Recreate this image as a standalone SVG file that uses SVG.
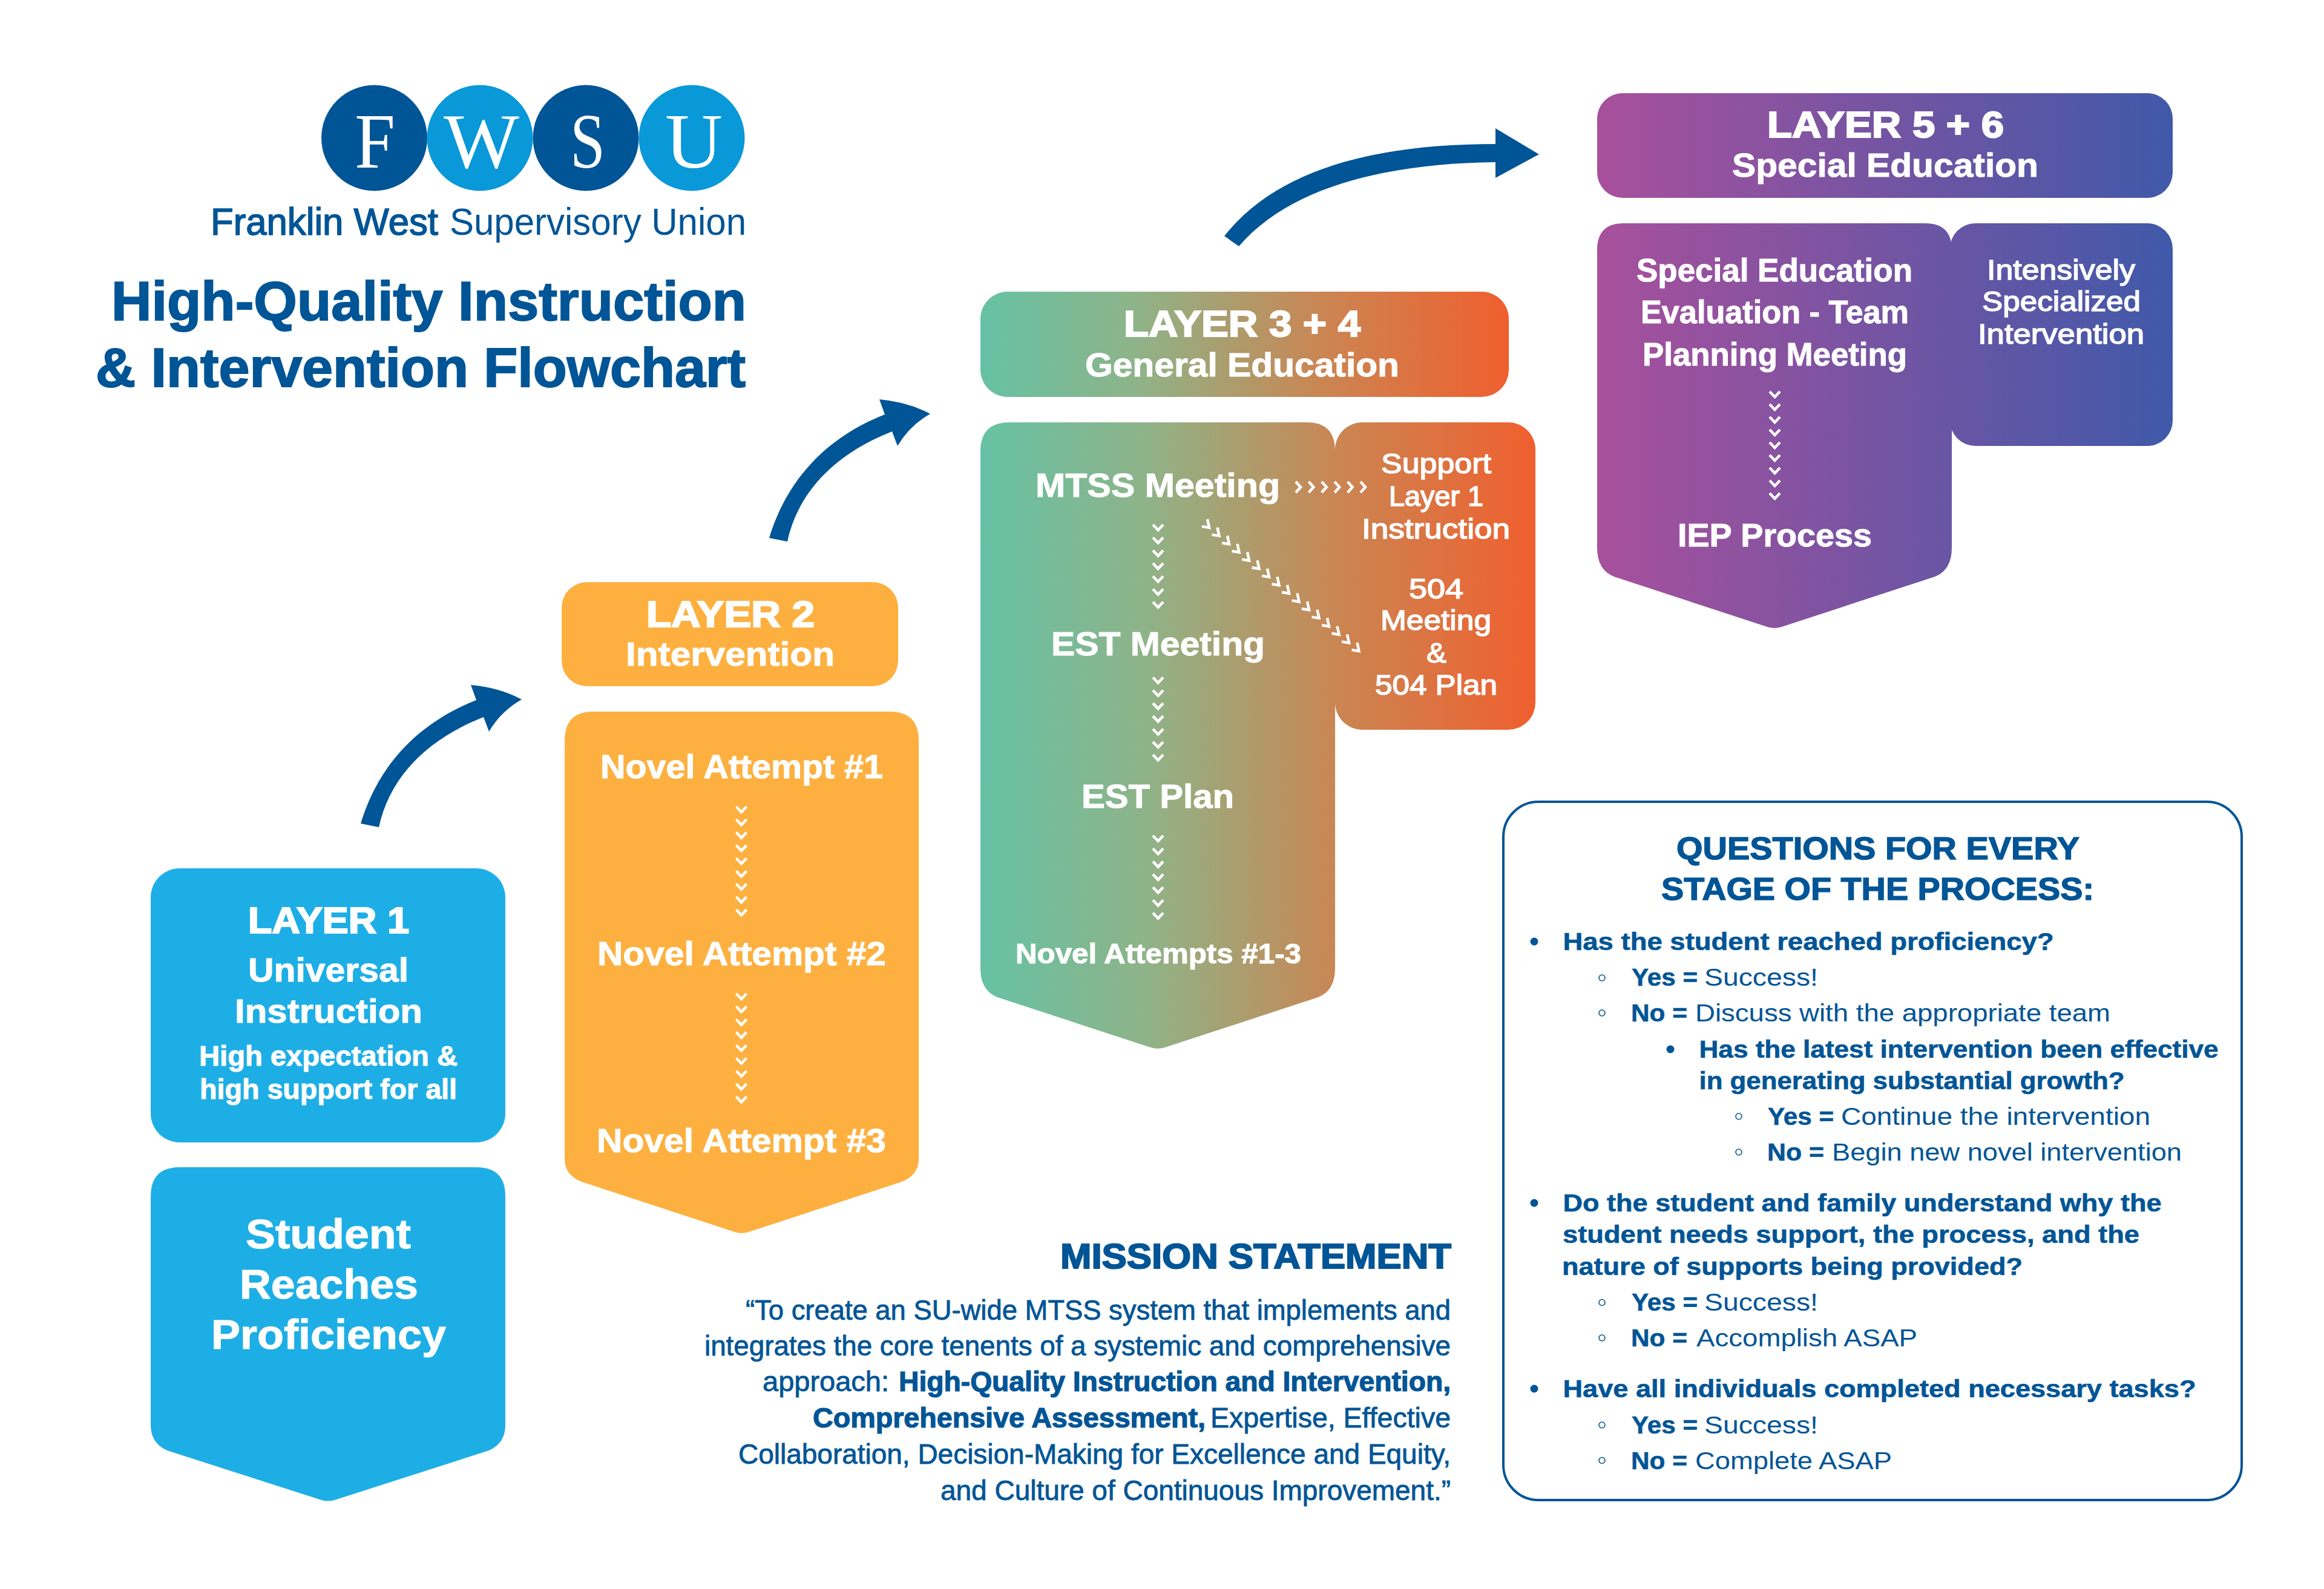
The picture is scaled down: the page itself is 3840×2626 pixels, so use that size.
<svg xmlns="http://www.w3.org/2000/svg" width="3840" height="2626" viewBox="0 0 3840 2626">
<style>
text{font-family:"Liberation Sans",Arial,sans-serif;}
.w{fill:#fff;font-weight:700;stroke:#fff;stroke-width:1;}
.h{fill:#fff;font-weight:700;stroke:#fff;stroke-width:2.2;}
.n{fill:#fff;font-weight:400;stroke:#fff;stroke-width:1.5;}
.b{fill:#005596;font-weight:700;stroke:#005596;stroke-width:.6;}
.tt{fill:#005596;font-weight:700;stroke:#005596;stroke-width:2;}
.fw{fill:#005596;font-weight:400;stroke:#005596;stroke-width:1.6;}
.r{fill:#005596;font-weight:400;}
.m{stroke:#005596;stroke-width:.8;}
.mb{stroke-width:1.2;}
.s{font-family:"Liberation Serif",serif;fill:#fff;font-size:130px;}
.q{font-size:41px;}
.t{font-size:41px;}
.cv{fill:none;stroke:#fff;stroke-width:4.5;}
.dot{fill:#005596;}
.ring{fill:none;stroke:#005596;stroke-width:1.6;}
</style>
<defs>
<linearGradient id="gGreen" gradientUnits="userSpaceOnUse" x1="1620" y1="0" x2="2537" y2="0"><stop offset="0" stop-color="#66C2A5"/><stop offset=".3" stop-color="#8FB388"/><stop offset=".65" stop-color="#CB8552"/><stop offset="1" stop-color="#F05F2E"/></linearGradient>
<linearGradient id="gGreenH" gradientUnits="userSpaceOnUse" x1="1620" y1="0" x2="2493" y2="0"><stop offset="0" stop-color="#66C2A5"/><stop offset=".3" stop-color="#8FB388"/><stop offset=".65" stop-color="#CB8552"/><stop offset="1" stop-color="#F05F2E"/></linearGradient>
<linearGradient id="gPurple" gradientUnits="userSpaceOnUse" x1="2639" y1="0" x2="3590" y2="0"><stop offset="0" stop-color="#A8509C"/><stop offset="1" stop-color="#4059A9"/></linearGradient>
<path id="cd" d="M-8.500 -5 L0 4 L8.500 -5"/>
<path id="cr" d="M-4 -9 L4 0 L-4 9"/>
<path id="cc" d="M-12 -2 L0 0 L-3 -14"/>
</defs>
<rect width="3840" height="2626" fill="#fff"/>

<g id="logo">
<ellipse cx="618.500" cy="228" rx="87.500" ry="87.500" fill="#005596"/>
<ellipse cx="793" cy="228" rx="87.500" ry="87.500" fill="#0998D8"/>
<ellipse cx="968" cy="228" rx="87.500" ry="87.500" fill="#005596"/>
<ellipse cx="1143" cy="228" rx="87.500" ry="87.500" fill="#0998D8"/>
<text class="s" x="586" y="277" textLength="67" lengthAdjust="spacingAndGlyphs">F</text>
<text class="s" x="733" y="277" textLength="125" lengthAdjust="spacingAndGlyphs">W</text>
<text class="s" x="942" y="277" textLength="58" lengthAdjust="spacingAndGlyphs">S</text>
<text class="s" x="1099" y="277" textLength="95" lengthAdjust="spacingAndGlyphs">U</text>
<text class="fw" x="348" y="388" font-size="63" textLength="376" lengthAdjust="spacingAndGlyphs">Franklin West</text>
<text class="r" x="743" y="388" font-size="63" textLength="490" lengthAdjust="spacingAndGlyphs">Supervisory Union</text>
</g>

<g id="title">
<text class="tt" x="184" y="529" font-size="91" textLength="1049" lengthAdjust="spacingAndGlyphs">High-Quality Instruction</text>
<text class="tt" x="158" y="639" font-size="91" textLength="1074" lengthAdjust="spacingAndGlyphs">&amp; Intervention Flowchart</text>
</g>

<g id="connectors">
<path id="arrow1" fill="#005596" d="M596 1361C625 1265 690 1195 787 1157L778 1132Q825 1136 862 1156Q828 1175 808 1209L799 1185C710 1220 645 1280 626 1367Z"/>
<path id="arrow2" fill="#005596" transform="translate(675 -472)" d="M596 1361C625 1265 690 1195 787 1157L778 1132Q825 1136 862 1156Q828 1175 808 1209L799 1185C710 1220 645 1280 626 1367Z"/>
<path id="arrow3" fill="#005596" d="M2023 390C2110 280 2270 238 2471 238L2471 212L2543 255L2471 294L2471 268C2300 270 2135 305 2047 407Z"/>
</g>

<g id="layer1">
<rect x="249" y="1435" width="586" height="453" rx="48" fill="#1EAEE6"/>
<text class="h" x="410" y="1542" font-size="61" textLength="266" lengthAdjust="spacingAndGlyphs">LAYER 1</text>
<text class="w" x="410" y="1622" font-size="56" textLength="265" lengthAdjust="spacingAndGlyphs">Universal</text>
<text class="w" x="388" y="1690" font-size="56" textLength="310" lengthAdjust="spacingAndGlyphs">Instruction</text>
<text class="w" x="329" y="1761" font-size="47" textLength="427" lengthAdjust="spacingAndGlyphs">High expectation &amp;</text>
<text class="w" x="330" y="1816" font-size="47" textLength="425" lengthAdjust="spacingAndGlyphs">high support for all</text>
</g>

<g id="student">
<path fill="#1EAEE6" d="M297 1929H787Q835 1929 835 1977V2355Q835 2385 808 2397L556 2478Q542 2483 528 2478L276 2397Q249 2385 249 2355V1977Q249 1929 297 1929Z"/>
<text class="w" x="406" y="2063" font-size="68" textLength="273" lengthAdjust="spacingAndGlyphs">Student</text>
<text class="w" x="396" y="2146" font-size="68" textLength="295" lengthAdjust="spacingAndGlyphs">Reaches</text>
<text class="w" x="349" y="2229" font-size="68" textLength="388" lengthAdjust="spacingAndGlyphs">Proficiency</text>
</g>

<g id="layer2-header">
<rect x="928" y="962" width="556" height="172" rx="42" fill="#FDB040"/>
<text class="h" x="1068" y="1036" font-size="61" textLength="278" lengthAdjust="spacingAndGlyphs">LAYER 2</text>
<text class="w" x="1034" y="1100" font-size="56" textLength="345" lengthAdjust="spacingAndGlyphs">Intervention</text>
</g>

<g id="layer2-body">
<path fill="#FDB040" d="M980 1176H1470Q1518 1176 1518 1224V1915Q1518 1942 1490 1953L1240 2035Q1225 2041 1211 2035L961 1953Q933 1942 933 1915V1224Q933 1176 980 1176Z"/>
<text class="w" x="992" y="1286" font-size="56" textLength="467" lengthAdjust="spacingAndGlyphs">Novel Attempt #1</text>
<text class="w" x="987" y="1595" font-size="56" textLength="477" lengthAdjust="spacingAndGlyphs">Novel Attempt #2</text>
<text class="w" x="986" y="1904" font-size="56" textLength="478" lengthAdjust="spacingAndGlyphs">Novel Attempt #3</text>
</g>

<g id="layer34-header">
<rect x="1620" y="482" width="873" height="174" rx="45" fill="url(#gGreenH)"/>
<text class="h" x="1857" y="556" font-size="61" textLength="391" lengthAdjust="spacingAndGlyphs">LAYER 3 + 4</text>
<text class="w" x="1793" y="622" font-size="56" textLength="519" lengthAdjust="spacingAndGlyphs">General Education</text>
</g>

<g id="layer34-side">
<rect x="2206" y="698" width="331" height="508" rx="45" fill="url(#gGreen)"/>
<text class="n" x="2282" y="782" font-size="47" textLength="182" lengthAdjust="spacingAndGlyphs">Support</text>
<text class="n" x="2295" y="836" font-size="47" textLength="156" lengthAdjust="spacingAndGlyphs">Layer 1</text>
<text class="n" x="2250" y="890" font-size="47" textLength="245" lengthAdjust="spacingAndGlyphs">Instruction</text>
<text class="n" x="2328" y="989" font-size="47" textLength="90" lengthAdjust="spacingAndGlyphs">504</text>
<text class="n" x="2281" y="1041" font-size="47" textLength="183" lengthAdjust="spacingAndGlyphs">Meeting</text>
<text class="n" x="2357" y="1095" font-size="47" textLength="33" lengthAdjust="spacingAndGlyphs">&amp;</text>
<text class="n" x="2272" y="1148" font-size="47" textLength="202" lengthAdjust="spacingAndGlyphs">504 Plan</text>
</g>

<g id="layer34-body">
<path fill="url(#gGreen)" d="M1668 698H2160Q2206 698 2206 746V1600Q2206 1637 2178 1648L1928 1730Q1913 1736 1898 1730L1648 1648Q1620 1637 1620 1600V746Q1620 698 1668 698Z"/>
<text class="w" x="1711" y="821" font-size="56" textLength="404" lengthAdjust="spacingAndGlyphs">MTSS Meeting</text>
<text class="w" x="1737" y="1083" font-size="56" textLength="353" lengthAdjust="spacingAndGlyphs">EST Meeting</text>
<text class="w" x="1787" y="1335" font-size="56" textLength="252" lengthAdjust="spacingAndGlyphs">EST Plan</text>
<text class="w" x="1678" y="1592" font-size="47" textLength="472" lengthAdjust="spacingAndGlyphs">Novel Attempts #1-3</text>
</g>

<g id="layer56-header">
<rect x="2639" y="154" width="951" height="173" rx="42" fill="url(#gPurple)"/>
<text class="h" x="2920" y="227" font-size="61" textLength="391" lengthAdjust="spacingAndGlyphs">LAYER 5 + 6</text>
<text class="w" x="2862" y="292" font-size="56" textLength="506" lengthAdjust="spacingAndGlyphs">Special Education</text>
</g>

<g id="layer56-side">
<rect x="3222" y="369" width="368" height="368" rx="42" fill="url(#gPurple)"/>
<text class="n" x="3283" y="462" font-size="47" textLength="245" lengthAdjust="spacingAndGlyphs">Intensively</text>
<text class="n" x="3275" y="514" font-size="47" textLength="262" lengthAdjust="spacingAndGlyphs">Specialized</text>
<text class="n" x="3268" y="568" font-size="47" textLength="275" lengthAdjust="spacingAndGlyphs">Intervention</text>
</g>

<g id="layer56-body">
<path fill="url(#gPurple)" d="M2683 369H3181Q3225 369 3225 413V905Q3225 942 3197 953L2947 1035Q2932 1041 2917 1035L2667 953Q2639 942 2639 905V413Q2639 369 2683 369Z"/>
<text class="w" x="2704" y="465" font-size="53" textLength="456" lengthAdjust="spacingAndGlyphs">Special Education</text>
<text class="w" x="2711" y="534" font-size="53" textLength="443" lengthAdjust="spacingAndGlyphs">Evaluation - Team</text>
<text class="w" x="2714" y="604" font-size="53" textLength="437" lengthAdjust="spacingAndGlyphs">Planning Meeting</text>
<text class="w" x="2772" y="903" font-size="53" textLength="321" lengthAdjust="spacingAndGlyphs">IEP Process</text>
</g>

<g id="chevrons" class="cv">
<use href="#cd" x="1913.5" y="872"/><use href="#cd" x="1913.5" y="893.300"/><use href="#cd" x="1913.5" y="914.600"/><use href="#cd" x="1913.5" y="935.900"/><use href="#cd" x="1913.5" y="957.200"/><use href="#cd" x="1913.5" y="978.500"/><use href="#cd" x="1913.5" y="999.800"/>
<use href="#cd" x="1913.5" y="1124.500"/><use href="#cd" x="1913.5" y="1145.800"/><use href="#cd" x="1913.5" y="1167.100"/><use href="#cd" x="1913.5" y="1188.400"/><use href="#cd" x="1913.5" y="1209.700"/><use href="#cd" x="1913.5" y="1231"/><use href="#cd" x="1913.5" y="1252.300"/>
<use href="#cd" x="1913.5" y="1386"/><use href="#cd" x="1913.5" y="1407.300"/><use href="#cd" x="1913.5" y="1428.600"/><use href="#cd" x="1913.5" y="1449.900"/><use href="#cd" x="1913.5" y="1471.200"/><use href="#cd" x="1913.5" y="1492.500"/><use href="#cd" x="1913.5" y="1513.800"/>
<use href="#cd" x="1225" y="1338"/><use href="#cd" x="1225" y="1359.300"/><use href="#cd" x="1225" y="1380.600"/><use href="#cd" x="1225" y="1401.900"/><use href="#cd" x="1225" y="1423.200"/><use href="#cd" x="1225" y="1444.500"/><use href="#cd" x="1225" y="1465.800"/><use href="#cd" x="1225" y="1487.100"/><use href="#cd" x="1225" y="1508.400"/>
<use href="#cd" x="1225" y="1647"/><use href="#cd" x="1225" y="1668.300"/><use href="#cd" x="1225" y="1689.600"/><use href="#cd" x="1225" y="1710.900"/><use href="#cd" x="1225" y="1732.200"/><use href="#cd" x="1225" y="1753.500"/><use href="#cd" x="1225" y="1774.800"/><use href="#cd" x="1225" y="1796.100"/><use href="#cd" x="1225" y="1817.400"/>
<use href="#cd" x="2932.5" y="652"/><use href="#cd" x="2932.5" y="673"/><use href="#cd" x="2932.5" y="694"/><use href="#cd" x="2932.5" y="715"/><use href="#cd" x="2932.5" y="736"/><use href="#cd" x="2932.5" y="757"/><use href="#cd" x="2932.5" y="778"/><use href="#cd" x="2932.5" y="799"/><use href="#cd" x="2932.5" y="820"/>
<use href="#cr" x="2145" y="805"/><use href="#cr" x="2166.400" y="805"/><use href="#cr" x="2187.800" y="805"/><use href="#cr" x="2209.200" y="805"/><use href="#cr" x="2230.600" y="805"/><use href="#cr" x="2252" y="805"/>
<use href="#cc" x="1998" y="872"/><use href="#cc" x="2014.500" y="885.600"/><use href="#cc" x="2031" y="899.200"/><use href="#cc" x="2047.500" y="912.800"/><use href="#cc" x="2064" y="926.400"/><use href="#cc" x="2080.500" y="940"/><use href="#cc" x="2097" y="953.600"/><use href="#cc" x="2113.500" y="967.200"/><use href="#cc" x="2130" y="980.800"/><use href="#cc" x="2146.500" y="994.400"/><use href="#cc" x="2163" y="1008"/><use href="#cc" x="2179.500" y="1021.600"/><use href="#cc" x="2196" y="1035.200"/><use href="#cc" x="2212.500" y="1048.800"/><use href="#cc" x="2229" y="1062.400"/><use href="#cc" x="2245.500" y="1076"/>
</g>

<g id="mission">
<text class="tt" x="1752" y="2096" font-size="57" textLength="646" lengthAdjust="spacingAndGlyphs">MISSION STATEMENT</text>
<text class="r m" x="1232" y="2181" font-size="46" textLength="1165" lengthAdjust="spacingAndGlyphs">“To create an SU-wide MTSS system that implements and</text>
<text class="r m" x="1164" y="2240" font-size="46" textLength="1233" lengthAdjust="spacingAndGlyphs">integrates the core tenents of a systemic and comprehensive</text>
<text class="r m" x="1260" y="2299" font-size="46" textLength="209" lengthAdjust="spacingAndGlyphs">approach:</text>
<text class="b mb" x="1485" y="2299" font-size="46" textLength="912" lengthAdjust="spacingAndGlyphs">High-Quality Instruction and Intervention,</text>
<text class="b mb" x="1343" y="2359" font-size="46" textLength="649" lengthAdjust="spacingAndGlyphs">Comprehensive Assessment,</text>
<text class="r m" x="2000" y="2359" font-size="46" textLength="397" lengthAdjust="spacingAndGlyphs">Expertise, Effective</text>
<text class="r m" x="1220" y="2419" font-size="46" textLength="1177" lengthAdjust="spacingAndGlyphs">Collaboration, Decision-Making for Excellence and Equity,</text>
<text class="r m" x="1554" y="2479" font-size="46" textLength="843" lengthAdjust="spacingAndGlyphs">and Culture of Continuous Improvement.”</text>
</g>

<g id="questions">
<rect x="2484" y="1325" width="1220" height="1154" rx="58" fill="#fff" stroke="#005596" stroke-width="4"/>
<text class="tt" x="2770" y="1420" font-size="52" textLength="666" lengthAdjust="spacingAndGlyphs" style="stroke-width:1.400px">QUESTIONS FOR EVERY</text>
<text class="tt" x="2745" y="1487" font-size="52" textLength="715" lengthAdjust="spacingAndGlyphs" style="stroke-width:1.400px">STAGE OF THE PROCESS:</text>

<circle class="dot" cx="2535" cy="1556" r="6.500"/>
<text class="b q" x="2582.500" y="1570" textLength="811" lengthAdjust="spacingAndGlyphs">Has the student reached proficiency?</text>
<circle class="ring" cx="2647" cy="1616" r="5"/>
<text class="b t" x="2696" y="1629" textLength="109" lengthAdjust="spacingAndGlyphs">Yes =</text>
<text class="r t" x="2816" y="1629" textLength="188" lengthAdjust="spacingAndGlyphs">Success!</text>
<circle class="ring" cx="2647" cy="1674" r="5"/>
<text class="b t" x="2695" y="1687.500" textLength="93" lengthAdjust="spacingAndGlyphs">No =</text>
<text class="r t" x="2801" y="1687.500" textLength="686" lengthAdjust="spacingAndGlyphs">Discuss with the appropriate team</text>
<circle class="dot" cx="2760" cy="1734" r="6.500"/>
<text class="b q" x="2807.500" y="1748" textLength="858" lengthAdjust="spacingAndGlyphs">Has the latest intervention been effective</text>
<text class="b q" x="2807.500" y="1800" textLength="703" lengthAdjust="spacingAndGlyphs">in generating substantial growth?</text>
<circle class="ring" cx="2873" cy="1845" r="5"/>
<text class="b t" x="2921" y="1859" textLength="109" lengthAdjust="spacingAndGlyphs">Yes =</text>
<text class="r t" x="3042" y="1859" textLength="511" lengthAdjust="spacingAndGlyphs">Continue the intervention</text>
<circle class="ring" cx="2873" cy="1904" r="5"/>
<text class="b t" x="2920" y="1918" textLength="94" lengthAdjust="spacingAndGlyphs">No =</text>
<text class="r t" x="3027" y="1918" textLength="578" lengthAdjust="spacingAndGlyphs">Begin new novel intervention</text>

<circle class="dot" cx="2535" cy="1988" r="6.500"/>
<text class="b q" x="2582.500" y="2002" textLength="989" lengthAdjust="spacingAndGlyphs">Do the student and family understand why the</text>
<text class="b q" x="2582" y="2054" textLength="953" lengthAdjust="spacingAndGlyphs">student needs support, the process, and the</text>
<text class="b q" x="2581" y="2107" textLength="761" lengthAdjust="spacingAndGlyphs">nature of supports being provided?</text>
<circle class="ring" cx="2647" cy="2152.500" r="5"/>
<text class="b t" x="2696" y="2166" textLength="109" lengthAdjust="spacingAndGlyphs">Yes =</text>
<text class="r t" x="2816" y="2166" textLength="188" lengthAdjust="spacingAndGlyphs">Success!</text>
<circle class="ring" cx="2647" cy="2211" r="5"/>
<text class="b t" x="2695" y="2225" textLength="93" lengthAdjust="spacingAndGlyphs">No =</text>
<text class="r t" x="2803" y="2225" textLength="365" lengthAdjust="spacingAndGlyphs">Accomplish ASAP</text>

<circle class="dot" cx="2535" cy="2295" r="6.500"/>
<text class="b q" x="2582.500" y="2309" textLength="1046" lengthAdjust="spacingAndGlyphs">Have all individuals completed necessary tasks?</text>
<circle class="ring" cx="2647" cy="2355" r="5"/>
<text class="b t" x="2696" y="2368.500" textLength="109" lengthAdjust="spacingAndGlyphs">Yes =</text>
<text class="r t" x="2816" y="2368.500" textLength="188" lengthAdjust="spacingAndGlyphs">Success!</text>
<circle class="ring" cx="2647" cy="2413.500" r="5"/>
<text class="b t" x="2695" y="2427.500" textLength="93" lengthAdjust="spacingAndGlyphs">No =</text>
<text class="r t" x="2801" y="2427.500" textLength="325" lengthAdjust="spacingAndGlyphs">Complete ASAP</text>
</g>
</svg>
